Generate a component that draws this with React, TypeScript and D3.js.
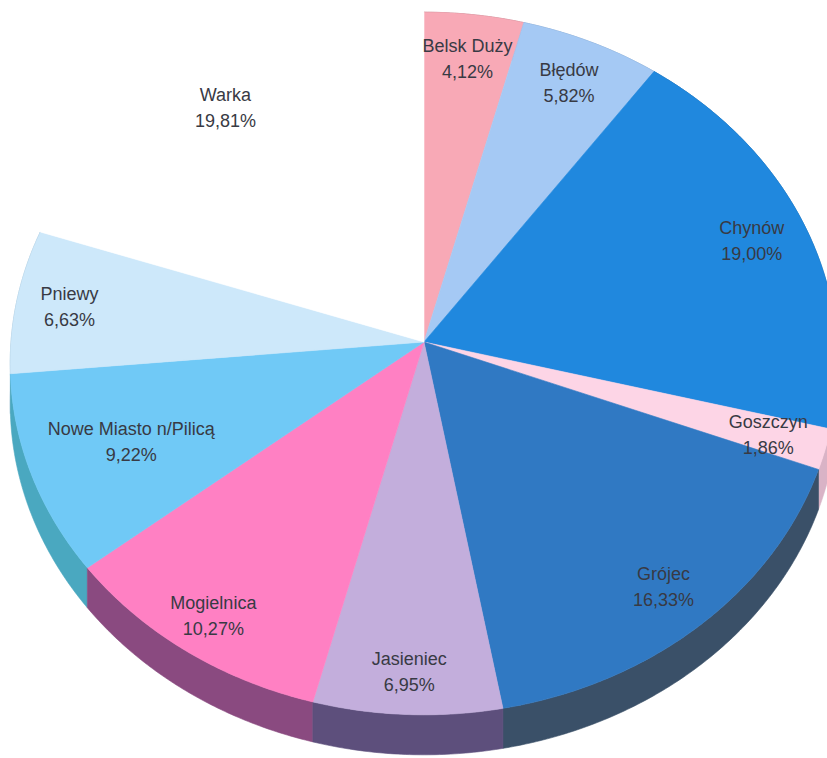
import React from 'react';
import * as d3 from 'd3';

const NAMES = ['Belsk Duży', 'Błędów', 'Chynów', 'Goszczyn', 'Grójec', 'Jasieniec', 'Mogielnica', 'Nowe Miasto n/Pilicą', 'Pniewy', 'Warka'];
const SHARES = [4.12, 5.82, 19.0, 1.86, 16.33, 6.95, 10.27, 9.22, 6.63, 19.81];
const TOP_COLORS = ['#f8a9b6', '#a5c9f4', '#2088de', '#fdd5e6', '#3079c3', '#c3aedc', '#ff80c3', '#70c9f6', '#cde8fa', '#ffffff'];
const SIDE_COLORS = ['#a86e7a', '#6f8fb8', '#1a5f9e', '#d9b3c6', '#3a5068', '#5d4f7c', '#8a4a80', '#4aa8c0', '#8fb2c8', '#ffffff'];

const W = 827;
const H = 758;
const AX = 424;
const AY = 342;
const RX = 413;
const RY = 350;
const K = 0.0612;
const DEPTH = 40;
const LABEL_R: Record<string, number> = {
  'Grójec': 0.87,
  'Jasieniec': 0.89,
  'Mogielnica': 0.89,
  'Nowe Miasto n/Pilicą': 0.75,
  'Pniewy': 0.87,
};

function project(a: number, r: number): [number, number] {
  const u = Math.sin(a) * r;
  const v = -Math.cos(a) * r;
  const w = 1 - K * v;
  return [AX + (RX * u) / w, AY + (RY * v) / w];
}

const locale = d3.formatLocale({ decimal: ',', thousands: ' ', grouping: [3], currency: ['', ''] });
const fmt = locale.format('.2f');

export default function App() {
  const data = NAMES.map((name, i) => ({ name, value: SHARES[i], i }));
  const arcs = d3
    .pie<{ name: string; value: number; i: number }>()
    .sort(null)
    .value((d) => d.value)
    .startAngle(0)
    .endAngle(Math.PI * 2)(data);

  const arcPoints = (a0: number, a1: number) => {
    const n = Math.max(2, Math.ceil((a1 - a0) / (Math.PI / 360)));
    return d3.range(n + 1).map((j) => project(a0 + ((a1 - a0) * j) / n, 1));
  };

  const line = d3.line();

  const slices = arcs.map((a) => {
    const pts = arcPoints(a.startAngle, a.endAngle);
    const top = line([[AX, AY], ...pts]) + 'Z';
    const bottom = pts.slice().reverse().map(([x, y]) => [x, y + DEPTH] as [number, number]);
    const side = line([...pts, ...bottom]) + 'Z';
    const mid = (a.startAngle + a.endAngle) / 2;
    const lr = LABEL_R[a.data.name] ?? 0.86;
    const [lx, ly] = project(mid, lr);
    return { a, top, side, mid, lx, ly };
  });

  const sideOrder = slices.slice().sort((p, q) => -Math.cos(p.mid) - -Math.cos(q.mid));

  return (
    <svg
      width={W}
      height={H}
      style={{ position: 'absolute', left: 0, top: 0, background: '#ffffff' }}
      fontFamily="'Liberation Sans', Arial, sans-serif"
    >
      <rect width={W} height={H} fill="#ffffff" />
      <g>
        {sideOrder.map((s) => (
          <path
            key={'side' + s.a.data.i}
            d={s.side}
            fill={SIDE_COLORS[s.a.data.i]}
            stroke={SIDE_COLORS[s.a.data.i]}
            strokeWidth={0.6}
          />
        ))}
      </g>
      <g>
        {slices.map((s) => (
          <path
            key={'top' + s.a.data.i}
            d={s.top}
            fill={TOP_COLORS[s.a.data.i]}
            stroke={TOP_COLORS[s.a.data.i]}
            strokeWidth={0.6}
          />
        ))}
      </g>
      <g fill="#383a44" fontSize={18} textAnchor="middle">
        {slices.map((s) => (
          <text key={'lab' + s.a.data.i} x={s.lx} y={s.ly}>
            <tspan x={s.lx} dy={-6.5}>
              {s.a.data.name}
            </tspan>
            <tspan x={s.lx} dy={26}>
              {fmt(s.a.data.value) + '%'}
            </tspan>
          </text>
        ))}
      </g>
    </svg>
  );
}
